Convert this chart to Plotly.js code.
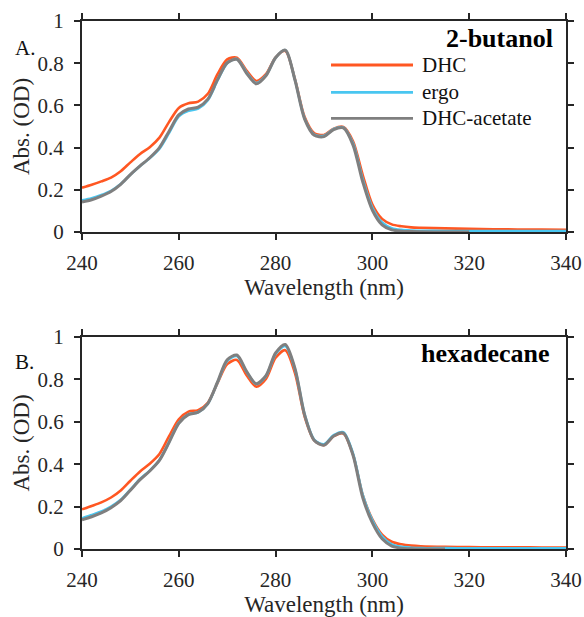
<!DOCTYPE html>
<html>
<head>
<meta charset="utf-8">
<script src="https://cdn.plot.ly/plotly-3.0.1.min.js"></script>
<style>
  html, body { margin: 0; padding: 0; background: #ffffff; }
  #plot { width: 584px; height: 617px; }
</style>
</head>
<body>
<div id="plot"></div>
<script>
// Wavelength grid (nm)
const wavelength = [240,242,244,246,248,250,252,254,256,258,260,262,264,266,268,270,272,274,276,278,280,282,284,286,288,290,292,294,296,298,300,302,304,306,308,310,315,320,325,330,335,340];

// Panel A: 2-butanol
const butanolDHC = [0.210,0.224,0.240,0.258,0.288,0.330,0.370,0.402,0.447,0.522,0.588,0.610,0.618,0.655,0.748,0.818,0.826,0.765,0.716,0.748,0.828,0.858,0.725,0.545,0.468,0.460,0.490,0.498,0.430,0.270,0.130,0.062,0.036,0.027,0.022,0.020,0.017,0.015,0.013,0.012,0.011,0.010];
const butanolErgo = [0.150,0.160,0.175,0.195,0.227,0.272,0.313,0.350,0.395,0.470,0.548,0.574,0.585,0.625,0.718,0.800,0.820,0.757,0.706,0.742,0.826,0.862,0.722,0.538,0.462,0.456,0.488,0.496,0.420,0.250,0.115,0.045,0.018,0.010,0.007,0.006,0.005,0.005,0.004,0.004,0.004,0.004];
const butanolAcetate = [0.142,0.153,0.170,0.192,0.226,0.272,0.313,0.352,0.400,0.478,0.555,0.583,0.592,0.630,0.722,0.802,0.818,0.752,0.702,0.740,0.826,0.862,0.720,0.535,0.458,0.452,0.485,0.493,0.412,0.238,0.103,0.034,0.010,0.004,0.002,0.001,0.000,0.000,null,null,null,null];

// Panel B: hexadecane
const hexadecaneDHC = [0.187,0.203,0.220,0.243,0.276,0.322,0.366,0.402,0.448,0.532,0.612,0.648,0.655,0.690,0.782,0.872,0.892,0.820,0.766,0.802,0.902,0.938,0.830,0.625,0.512,0.490,0.532,0.545,0.445,0.255,0.140,0.068,0.034,0.022,0.016,0.013,0.010,0.009,0.008,0.008,0.007,0.007];
const hexadecaneErgo = [0.145,0.160,0.177,0.200,0.232,0.280,0.330,0.370,0.420,0.505,0.595,0.635,0.645,0.685,0.785,0.888,0.910,0.836,0.778,0.815,0.920,0.958,0.848,0.635,0.515,0.494,0.537,0.551,0.450,0.255,0.135,0.060,0.022,0.010,0.006,0.004,0.004,0.003,0.003,0.003,0.003,0.003];
const hexadecaneAcetate = [0.138,0.152,0.170,0.195,0.228,0.277,0.327,0.368,0.418,0.503,0.593,0.634,0.645,0.686,0.788,0.893,0.915,0.838,0.780,0.818,0.925,0.965,0.852,0.632,0.512,0.490,0.533,0.547,0.442,0.243,0.123,0.048,0.014,0.004,0.001,0.000,0.000,null,null,null,null,null];

const seriesNames = ['DHC', 'ergo', 'DHC-acetate'];
const seriesColors = ['#FF5722', '#49C6F0', '#7F7F7F'];
const seriesWidths = [2.6, 2.6, 3.0];
const panelLabels = ['A.', 'B.'];
const solventNames = ['2-butanol', 'hexadecane'];

const serif = '"Liberation Serif", "Times New Roman", serif';
const axisColor = '#262626';

const panels = [
  { axes: ['x', 'y'], data: [butanolDHC, butanolErgo, butanolAcetate] },
  { axes: ['x2', 'y2'], data: [hexadecaneDHC, hexadecaneErgo, hexadecaneAcetate] }
];

const traces = [];
panels.forEach(p => {
  p.data.forEach((vals, i) => {
    traces.push({
      type: 'scatter', mode: 'lines',
      x: wavelength, y: vals,
      xaxis: p.axes[0], yaxis: p.axes[1],
      name: seriesNames[i], showlegend: false,
      connectgaps: false,
      line: { color: seriesColors[i], width: seriesWidths[i], shape: 'spline', smoothing: 0.8 },
      hoverinfo: 'skip'
    });
  });
});

function xAxis(anchor) {
  return {
    anchor: anchor, domain: [0, 1], range: [240, 340], dtick: 20, tick0: 240,
    showline: true, mirror: 'ticks', linecolor: axisColor, linewidth: 2,
    ticks: 'outside', ticklen: 6, tickwidth: 2, tickcolor: axisColor,
    showgrid: false, zeroline: false,
    ticklabelstandoff: 5,
    tickfont: { family: serif, size: 21, color: axisColor },
    title: { text: 'Wavelength (nm)', font: { family: serif, size: 23, color: axisColor }, standoff: 4 }
  };
}
function yAxis(anchor, domain) {
  return {
    anchor: anchor, domain: domain, range: [0, 1], dtick: 0.2, tick0: 0,
    showline: true, mirror: 'ticks', linecolor: axisColor, linewidth: 2,
    ticks: 'outside', ticklen: 6, tickwidth: 2, tickcolor: axisColor,
    showgrid: false, zeroline: false,
    ticklabelstandoff: 6,
    tickfont: { family: serif, size: 21, color: axisColor },
    title: { text: 'Abs. (OD)', font: { family: serif, size: 23, color: axisColor }, standoff: 1 }
  };
}

// Legend drawn inside panel A
const legendX0 = 0.5145, legendX1 = 0.6839, legendTextX = 0.6983;
const legendY = [0.9167, 0.8650, 0.8157];
const shapes = seriesNames.map((n, i) => ({
  type: 'line', xref: 'paper', yref: 'paper',
  x0: legendX0, x1: legendX1, y0: legendY[i], y1: legendY[i],
  line: { color: seriesColors[i], width: 2.8 }
}));
const annotations = seriesNames.map((n, i) => ({
  text: n, xref: 'paper', yref: 'paper', x: legendTextX, y: legendY[i],
  xanchor: 'left', yanchor: 'middle', showarrow: false,
  font: { family: serif, size: 21, color: '#111111' }
}));

annotations.push(
  { text: '<b>' + solventNames[0] + '</b>', xref: 'paper', yref: 'paper', x: 0.9773, y: 0.9678,
    xanchor: 'right', yanchor: 'middle', showarrow: false, font: { family: serif, size: 26, color: '#000000' } },
  { text: '<b>' + solventNames[1] + '</b>', xref: 'paper', yref: 'paper', x: 0.9711, y: 0.3712,
    xanchor: 'right', yanchor: 'middle', showarrow: false, font: { family: serif, size: 26, color: '#000000' } },
  { text: panelLabels[0], xref: 'paper', yref: 'paper', x: -0.1426, y: 0.9489,
    xanchor: 'left', yanchor: 'middle', showarrow: false, font: { family: serif, size: 21, color: '#111111' } },
  { text: panelLabels[1], xref: 'paper', yref: 'paper', x: -0.1426, y: 0.3542,
    xanchor: 'left', yanchor: 'middle', showarrow: false, font: { family: serif, size: 21, color: '#111111' } }
);

const layout = {
  width: 584, height: 617,
  margin: { l: 82, r: 18, t: 21, b: 68 },
  font: { family: serif, size: 21, color: axisColor },
  paper_bgcolor: '#ffffff', plot_bgcolor: '#ffffff',
  showlegend: false,
  xaxis: xAxis('y'),
  yaxis: yAxis('x', [0.6004, 1]),
  xaxis2: xAxis('y2'),
  yaxis2: yAxis('x2', [0, 0.4015]),
  shapes: shapes,
  annotations: annotations
};

Plotly.newPlot('plot', traces, layout, { staticPlot: true, displayModeBar: false });
</script>
</body>
</html>
